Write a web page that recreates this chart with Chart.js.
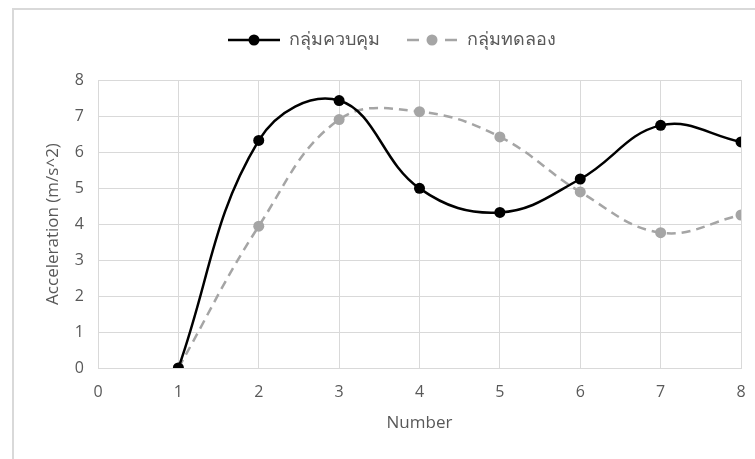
<!DOCTYPE html>
<html>
<head>
<meta charset="utf-8">
<script src="https://cdn.jsdelivr.net/npm/chart.js@4.4.1/dist/chart.umd.min.js"></script>
<style>
  html, body { margin: 0; padding: 0; background: #ffffff; }
  #wrap { position: relative; width: 755px; height: 459px; overflow: hidden; }
  #frame { position: absolute; left: 12px; top: 8px; width: 800px; height: 500px;
           border-left: 2px solid #d9d9d9; border-top: 2px solid #d9d9d9; box-sizing: border-box; }
  #c { position: absolute; left: 0; top: 0; }
</style>
</head>
<body>
<div id="wrap">
  <div id="frame"></div>
  <canvas id="c" width="755" height="459"></canvas>
</div>
<script>
// Trial numbers and measured acceleration for each group
const numbers = [1, 2, 3, 4, 5, 6, 7, 8];
const controlGroup = [0, 6.32, 7.43, 4.99, 4.32, 5.25, 6.74, 6.28];
const testGroup = [0, 3.94, 6.90, 7.12, 6.42, 4.89, 3.76, 4.25];
const seriesNames = ['กลุ่มควบคุม', 'กลุ่มทดลอง'];
const xTicks = [0, 1, 2, 3, 4, 5, 6, 7, 8];
const yTicks = [0, 1, 2, 3, 4, 5, 6, 7, 8];

const TEXT = '#595959';
const GRID = '#d9d9d9';
const BLACK = '#000000';
const GREY = '#a5a5a5';
const FONT = "'Open Sans', 'Noto Sans', sans-serif";

function pairs(ys) { return numbers.map((x, i) => ({ x: x, y: ys[i] })); }

// Legend swatches: a short line with the marker in the middle
function swatch(color, dashed) {
  const cv = document.createElement('canvas');
  cv.width = 52; cv.height = 14;
  const g = cv.getContext('2d');
  g.strokeStyle = color; g.fillStyle = color; g.lineWidth = 2.5;
  if (dashed) {
    g.beginPath(); g.moveTo(1, 7); g.lineTo(13, 7); g.stroke();
    g.beginPath(); g.moveTo(39, 7); g.lineTo(51, 7); g.stroke();
  } else {
    g.beginPath(); g.moveTo(0, 7); g.lineTo(52, 7); g.stroke();
  }
  g.beginPath(); g.arc(26, 7, 5.5, 0, Math.PI * 2); g.fill();
  return cv;
}
const swatches = [swatch(BLACK, false), swatch(GREY, true)];

// Leave extra room between the legend and the plot
const legendGap = {
  id: 'legendGap',
  beforeUpdate(chart) {
    const lg = chart.legend;
    if (lg && !lg._gapPatched) {
      const fit = lg.fit;
      lg.fit = function () { fit.call(this); this.height += 21; };
      lg._gapPatched = true;
    }
  }
};

new Chart(document.getElementById('c'), {
  type: 'line',
  data: {
    datasets: [
      {
        label: seriesNames[0],
        data: pairs(controlGroup),
        borderColor: BLACK, backgroundColor: BLACK,
        borderWidth: 2.5, pointRadius: 5.5, pointHoverRadius: 5.5,
        pointBackgroundColor: BLACK, pointBorderWidth: 0,
        tension: 0.4, fill: false
      },
      {
        label: seriesNames[1],
        data: pairs(testGroup),
        borderColor: GREY, backgroundColor: GREY,
        borderWidth: 2.5, borderDash: [9, 6], pointRadius: 5.5, pointHoverRadius: 5.5,
        pointBackgroundColor: GREY, pointBorderWidth: 0,
        tension: 0.4, fill: false
      }
    ]
  },
  plugins: [legendGap],
  options: {
    responsive: false,
    animation: false,
    layout: { padding: { left: 43, right: 14, top: 5, bottom: 0 } },
    plugins: {
      tooltip: { enabled: false },
      legend: {
        position: 'top',
        labels: {
          usePointStyle: true,
          pointStyleWidth: 52,
          padding: 26,
          color: TEXT,
          font: { family: FONT, size: 18 },
          generateLabels: (chart) => chart.data.datasets.map((ds, i) => ({
            text: ds.label,
            pointStyle: swatches[i],
            fontColor: TEXT,
            strokeStyle: 'transparent',
            fillStyle: 'transparent',
            lineWidth: 0,
            hidden: false,
            datasetIndex: i
          }))
        }
      }
    },
    scales: {
      x: {
        type: 'linear',
        min: 0, max: 8,
        afterBuildTicks: (s) => { s.ticks = xTicks.map(v => ({ value: v })); },
        afterFit: (s) => { s.height = 91; s.paddingRight = 0; s.paddingLeft = 0; },
        grid: { color: GRID, lineWidth: 1, drawTicks: false },
        border: { color: GRID, width: 1 },
        ticks: { color: TEXT, font: { family: FONT, size: 16 }, padding: 15 },
        title: { display: true, text: 'Number', color: TEXT,
                 font: { family: FONT, size: 17 }, padding: { top: 0, bottom: 26 } }
      },
      y: {
        min: 0, max: 8,
        afterBuildTicks: (s) => { s.ticks = yTicks.map(v => ({ value: v })); },
        afterFit: (s) => { s.width = 55; },
        grid: { color: GRID, lineWidth: 1, drawTicks: false },
        border: { color: GRID, width: 1 },
        ticks: { color: TEXT, font: { family: FONT, size: 16 }, padding: 14 },
        title: { display: true, text: 'Acceleration (m/s^2)', color: TEXT,
                 font: { family: FONT, size: 17 }, padding: { top: 0, bottom: 0 } }
      }
    }
  }
});
</script>
</body>
</html>
